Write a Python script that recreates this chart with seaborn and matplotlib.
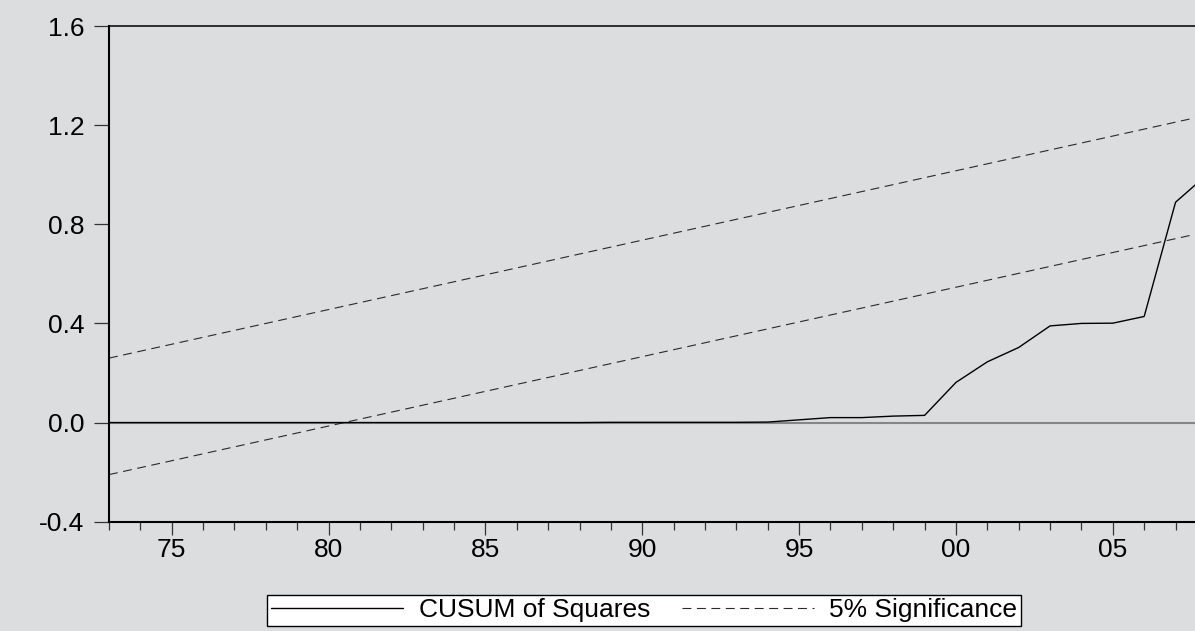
import seaborn as sns
import matplotlib.pyplot as plt
import pandas as pd
from matplotlib.ticker import MultipleLocator, FixedLocator

# CUSUM of squares, annual 1973-2008
years = list(range(1973, 2009))
cusum_sq = [0.0, 0.0, 0.0, 0.0, 0.0, 0.0, 0.0, 0.0, 0.0, 0.0,
            0.0, 0.0, 0.0, 0.0, 0.0, 0.0, 0.001, 0.001, 0.001, 0.001,
            0.001, 0.002, 0.011, 0.02, 0.02, 0.026, 0.029, 0.162,
            0.245, 0.303, 0.39, 0.40, 0.401, 0.428, 0.889, 1.0]

# 5% significance bounds (straight lines, end points)
sig_years = [1973, 2008]
upper_bound = [0.26, 1.24]
lower_bound = [-0.21, 0.77]

xtick_years = [1975, 1980, 1985, 1990, 1995, 2000, 2005]
xtick_labels = ['75', '80', '85', '90', '95', '00', '05']
ytick_vals = [-0.4, 0.0, 0.4, 0.8, 1.2, 1.6]

bg = '#dcdddf'
sns.set_style('white', {'axes.facecolor': bg, 'figure.facecolor': bg})
plt.rcParams['font.family'] = ['Liberation Sans', 'DejaVu Sans']

df = pd.DataFrame({'year': years, 'cusum': cusum_sq})
bounds = pd.DataFrame({'year': sig_years, 'upper': upper_bound, 'lower': lower_bound})

fig = plt.figure(figsize=(11.95, 6.31), dpi=100)
ax = fig.add_axes([109 / 1195, 109.3 / 631, 1086 / 1195, 495.7 / 631])

ax.axhline(0, color='#868686', lw=1.5, zorder=1)
sns.lineplot(data=df, x='year', y='cusum', ax=ax, color='black', lw=1.0,
             legend=False, zorder=3)
sns.lineplot(data=bounds, x='year', y='upper', ax=ax, color='#2a2a2a', lw=0.8,
             legend=False, zorder=2)
sns.lineplot(data=bounds, x='year', y='lower', ax=ax, color='#2a2a2a', lw=0.8,
             legend=False, zorder=2)
for ln in ax.get_lines()[2:]:
    ln.set_linestyle((0, (8, 5)))

ax.set_xlim(1973, 2007.62)
ax.set_ylim(-0.4, 1.6)
ax.set_xlabel('')
ax.set_ylabel('')

ax.yaxis.set_major_locator(FixedLocator(ytick_vals))
ax.set_yticklabels([f'{v:.1f}' for v in ytick_vals])
ax.xaxis.set_major_locator(FixedLocator(xtick_years))
ax.set_xticklabels(xtick_labels)
ax.xaxis.set_minor_locator(MultipleLocator(1))

ax.tick_params(axis='y', which='major', direction='out', length=10.8, width=0.9,
               color='#333333', pad=7, labelsize=19, labelcolor='black', left=True)
ax.tick_params(axis='x', which='major', direction='out', length=9.5, width=0.9,
               color='#333333', pad=2, labelsize=19, labelcolor='black', bottom=True)
ax.tick_params(axis='x', which='minor', direction='out', length=5.5, width=0.9,
               color='#333333', bottom=True)

for side in ['left', 'bottom']:
    ax.spines[side].set_linewidth(1.5)
    ax.spines[side].set_color('black')
ax.spines['top'].set_linewidth(1.1)
ax.spines['top'].set_color('black')
ax.spines['right'].set_visible(False)

handles = [ax.get_lines()[1], ax.get_lines()[2]]
labels = ['CUSUM of Squares', '5% Significance']
leg = fig.legend(handles, labels, loc='center', bbox_to_anchor=(0.539, 0.0325),
                 ncol=2, fontsize=19, frameon=True, fancybox=False,
                 edgecolor='black', facecolor='white', framealpha=1,
                 handlelength=5.0, handletextpad=0.6, columnspacing=1.2,
                 borderpad=0.15, borderaxespad=0, labelcolor='black')
leg.get_frame().set_linewidth(1.0)

plt.savefig('out.png', dpi=100, facecolor=bg)
